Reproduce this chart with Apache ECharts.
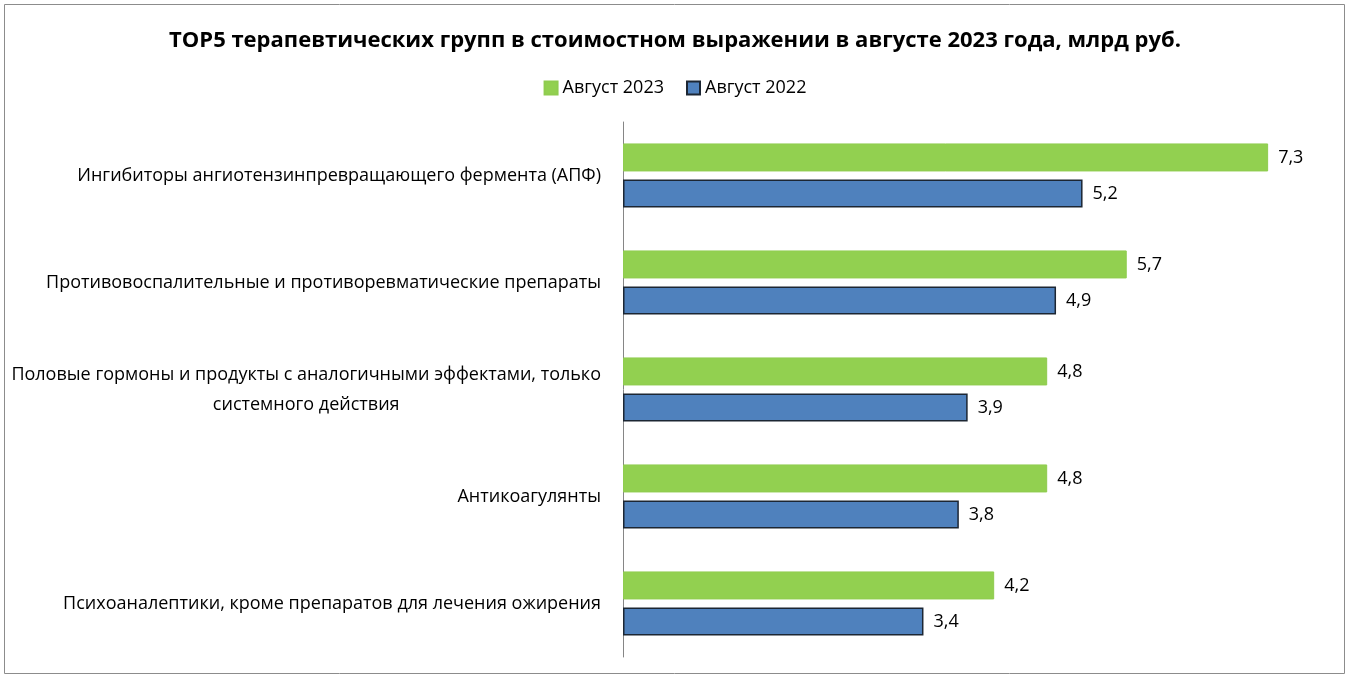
<!DOCTYPE html>
<html><head><meta charset="utf-8">
<script src="https://cdn.jsdelivr.net/npm/echarts@6/dist/echarts.min.js"></script>
<style>html,body{margin:0;padding:0;background:#fff}#c{width:1350px;height:679px}</style>
</head><body><div id="c"></div>
<script>
const categories = [
  'Ингибиторы ангиотензинпревращающего фермента (АПФ)',
  'Противовоспалительные и противоревматические препараты',
  'Половые гормоны и продукты с аналогичными эффектами, только\nсистемного действия',
  'Антикоагулянты',
  'Психоаналептики, кроме препаратов для лечения ожирения'
];
const seriesNames = ['Август 2023', 'Август 2022'];
const aug2023 = [7.3, 5.7, 4.8, 4.8, 4.2];
const aug2022 = [5.2, 4.9, 3.9, 3.8, 3.4];

const FONT = "'Open Sans', sans-serif";
const chart = echarts.init(document.getElementById('c'));
chart.setOption({
  animation: false,
  textStyle: {fontFamily: FONT},
  graphic: [{type: 'rect', shape: {x: 4.5, y: 4.5, width: 1340, height: 669}, style: {fill: 'none', stroke: '#8c8c8c', lineWidth: 1}, silent: true}],
  title: {text: 'TOP5 терапевтических групп в стоимостном выражении в августе 2023 года, млрд руб.', left: 'center', top: 25, textStyle: {fontFamily: FONT, fontSize: 22, fontWeight: 'bold', color: '#000'}},
  legend: {top: 74, left: 'center', icon: 'rect', itemWidth: 13, itemHeight: 13, itemGap: 22, textStyle: {fontFamily: FONT, fontSize: 18, color: '#000'}, data: seriesNames},
  grid: {left: 623, right: 20, top: 122, bottom: 22, containLabel: false},
  xAxis: {type: 'value', min: 0, max: 8, show: false, splitLine: {show: false}},
  yAxis: {type: 'category', data: categories, inverse: true,
    axisLine: {show: true, lineStyle: {color: '#868686', width: 1}},
    axisTick: {show: false},
    axisLabel: {margin: 22, color: '#000', fontSize: 18, fontFamily: FONT, lineHeight: 30,
      formatter: v => v.split('\n').map(s => '{c|' + s + '}').join('\n'),
      rich: {c: {align: 'center', fontSize: 18, fontFamily: FONT, color: '#000', lineHeight: 30}}}
  },
  series: [
    {name: seriesNames[0], type: 'bar', data: aug2023, barWidth: 28, barGap: '29%',
      itemStyle: {color: '#92d050', borderColor: '#8fcc4f', borderWidth: 1},
      label: {show: true, position: 'right', distance: 10, fontSize: 18, fontFamily: FONT, color: '#000', formatter: p => String(p.value).replace('.', ',')}},
    {name: seriesNames[1], type: 'bar', data: aug2022, barWidth: 28,
      itemStyle: {color: '#4f81bd', borderColor: '#1c2633', borderWidth: 1.5},
      label: {show: true, position: 'right', distance: 10, fontSize: 18, fontFamily: FONT, color: '#000', formatter: p => String(p.value).replace('.', ',')}}
  ]
});
</script></body></html>
